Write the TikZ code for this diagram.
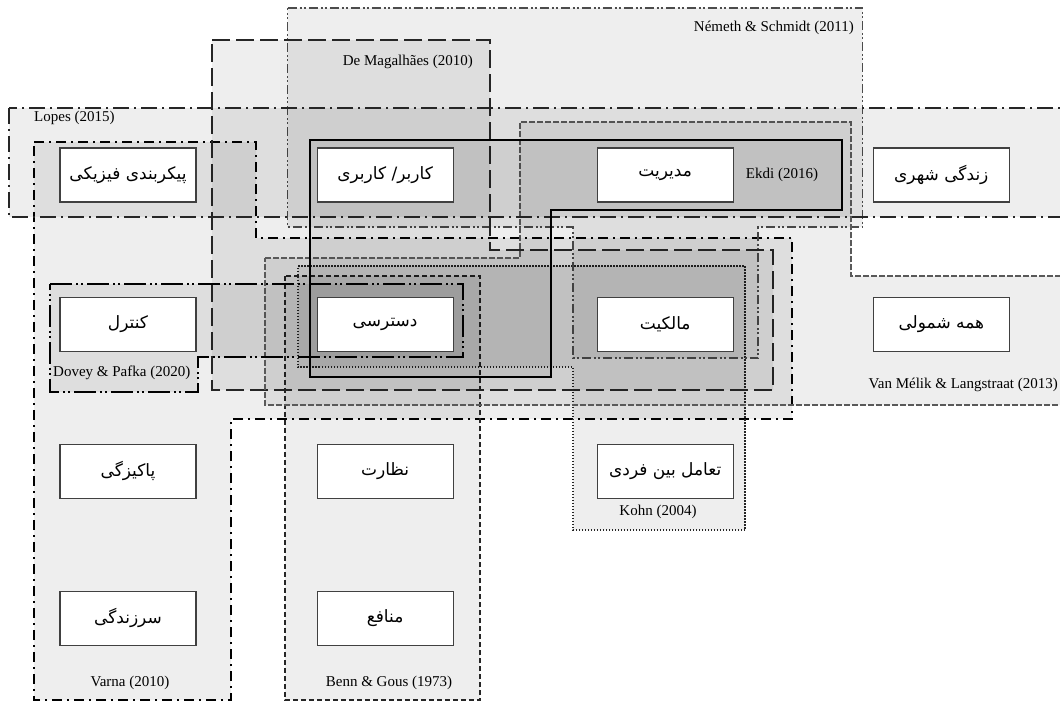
\documentclass[tikz,border=0pt]{standalone}
\usepackage{fontspec}
\setmainfont{Liberation Serif}
\newfontfamily\fa[Script=Arabic]{DejaVu Sans}
\TeXXeTstate=1
\usetikzlibrary{positioning}
\newcommand{\fatext}[1]{{\fa\beginR #1\endR}}

\begin{document}
\begin{tikzpicture}[x=1pt, y=-1pt,
  concept/.style={draw=black!75, line width=1.1pt, fill=white,
                  minimum width=136pt, minimum height=54pt, inner sep=0pt,
                  font=\fontsize{17}{20}\selectfont},
  zone/.style={fill=black, fill opacity=0.066},
  author/.style={font=\fontsize{15}{18}\selectfont, inner sep=1pt},
  lopesline/.style={draw=black!85, line width=1.6pt, dash pattern=on 16pt off 5pt on 2pt off 5pt},
  nemethline/.style={draw=black!70, line width=1.1pt, dash pattern=on 9pt off 3pt on 2pt off 2pt on 2pt off 3pt},
  demagline/.style={draw=black!85, line width=1.6pt, dash pattern=on 18pt off 6pt},
  varnaline/.style={draw=black, line width=1.6pt, dash pattern=on 10pt off 5pt on 2pt off 5pt},
  bennline/.style={draw=black!85, line width=1.4pt, dash pattern=on 5pt off 3pt},
  kohnline/.style={draw=black!85, line width=1.5pt, dash pattern=on 1.5pt off 1.5pt},
  vanline/.style={draw=black!65, line width=1.4pt, dash pattern=on 6pt off 2pt},
  doveyline/.style={draw=black, line width=1.5pt, dash pattern=on 22pt off 4pt on 2pt off 3pt on 2pt off 4pt},
  ekdiline/.style={draw=black, line width=2.2pt},
  ]
  \useasboundingbox (0,0) rectangle (1060,702);

  \path[zone, varnaline] (34,142) -- (256,142) -- (256,238) -- (792,238) -- (792,419)
    -- (231,419) -- (231,700) -- (34,700) -- cycle;
  \path[zone, bennline] (285,276) rectangle (480,700);
  \path[zone, kohnline] (298,266) -- (745,266) -- (745,530) -- (573,530) -- (573,367)
    -- (298,367) -- cycle;
  \path[zone, nemethline] (287.5,8) -- (862.5,8) -- (862.5,227) -- (758,227) -- (758,358)
    -- (573,358) -- (573,227) -- (287.5,227) -- cycle;
  \path[zone, demagline] (212,40) -- (490,40) -- (490,250) -- (773,250) -- (773,390)
    -- (212,390) -- cycle;
  \path[zone, vanline] (265,258) -- (520,258) -- (520,122) -- (851,122) -- (851,276)
    -- (1064,276) -- (1064,405) -- (265,405) -- cycle;
  \path[zone, lopesline] (9,108) rectangle (1066,217);
  \path[zone, doveyline] (50,284) -- (463,284) -- (463,357) -- (198,357) -- (198,392)
    -- (50,392) -- cycle;
  \path[zone, ekdiline] (310,140) -- (842,140) -- (842,210) -- (551,210) -- (551,377)
    -- (310,377) -- cycle;

  \node[concept] (phys) at (128,175) {\fatext{پیکربندی فیزیکی}};
  \node[concept, right=120pt of phys] (use) {\fatext{کاربر/ کاربری}};
  \node[concept, right=143pt of use] (manage) {\fatext{مدیریت}};
  \node[concept, right=139pt of manage] (urban) {\fatext{زندگی شهری}};
  \node[concept, below=94pt of phys] (control) {\fatext{کنترل}};
  \node[concept, below=94pt of use] (access) {\fatext{دسترسی}};
  \node[concept, below=94pt of manage] (owner) {\fatext{مالکیت}};
  \node[concept, below=94pt of urban] (incl) {\fatext{همه شمولی}};
  \node[concept, below=92pt of control] (clean) {\fatext{پاکیزگی}};
  \node[concept, below=92pt of access] (agency) {\fatext{نظارت}};
  \node[concept, below=92pt of owner] (inter) {\fatext{تعامل بین فردی}};
  \node[concept, below=92pt of clean] (anim) {\fatext{سرزندگی}};
  \node[concept, below=92pt of agency] (interest) {\fatext{منافع}};

  \node[author, anchor=east] (nemeth) at (855,28) {Németh \& Schmidt (2011)};
  \node[author, anchor=east] (demag) at (474,62) {De Magalhães (2010)};
  \node[author, anchor=west] (lopes) at (33,118) {Lopes (2015)};
  \node[author] (ekdi) at (782,175) {Ekdi (2016)};
  \node[author, anchor=west] (dovey) at (52,373) {Dovey \& Pafka (2020)};
  \node[author, anchor=east] (vanmelik) at (1059,385) {Van Mélik \& Langstraat (2013)};
  \node[author] (kohn) at (658,512) {Kohn (2004)};
  \node[author] (varna) at (130,683) {Varna (2010)};
  \node[author] (benn) at (389,683) {Benn \& Gous (1973)};
\end{tikzpicture}
\end{document}
